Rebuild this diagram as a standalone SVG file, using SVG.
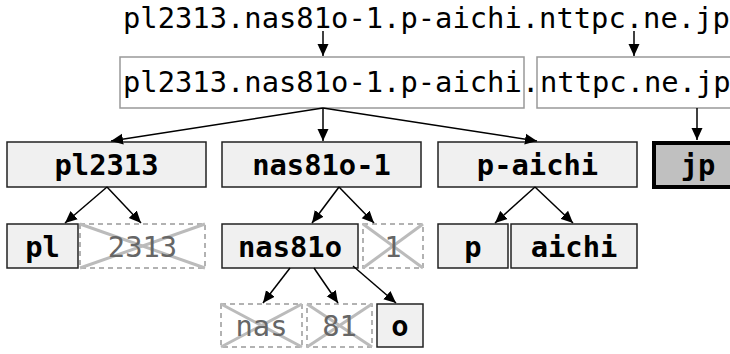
<svg xmlns="http://www.w3.org/2000/svg" width="730" height="354" viewBox="0 0 730 354">
<defs>
<marker id="arr" markerUnits="userSpaceOnUse" markerWidth="12" markerHeight="12" viewBox="0 0 12 12" refX="12" refY="6" orient="auto">
<path d="M0,0.5 L12,6 L0,11.5 z" fill="#000"/>
</marker>
<style>
.t{font-family:"DejaVu Sans Mono","Liberation Mono",monospace;font-size:28.8px;fill:#000}
.b{font-weight:bold;text-anchor:middle}
.g{fill:#666;text-anchor:middle}
.top{fill:#fff;stroke:#999;stroke-width:1.5}
.n{fill:#f0f0f0;stroke:#222;stroke-width:1.5}
.x{fill:none;stroke:#999;stroke-width:1.5;stroke-dasharray:5,4}
.xl{stroke:#bbb;stroke-width:3}
.c line{stroke:#000;stroke-width:1.5;marker-end:url(#arr)}
</style>
</defs>
<g id="source"><text class="t" x="123" y="28">pl2313.nas81o-1.p-aichi.nttpc.ne.jp</text></g>
<g id="host"><rect class="top" x="120" y="57" width="404" height="51"/><text class="t" x="123" y="92">pl2313.nas81o-1.p-aichi</text></g>
<g id="dot"><text class="t" x="522" y="92">.</text></g>
<g id="domain"><rect class="top" x="537" y="57" width="200" height="51"/><text class="t" x="540" y="92">nttpc.ne.jp</text></g>
<g id="n-pl2313"><rect class="n" x="7" y="142" width="199" height="45"/><text class="t b" x="106.5" y="175">pl2313</text></g>
<g id="n-nas81o-1"><rect class="n" x="222" y="142" width="199" height="45"/><text class="t b" x="321.5" y="175">nas81o-1</text></g>
<g id="n-p-aichi"><rect class="n" x="438" y="142" width="199" height="45"/><text class="t b" x="537.5" y="175">p-aichi</text></g>
<g id="n-jp"><rect x="654" y="143" width="90" height="44" fill="#c0c0c0" stroke="#000" stroke-width="4"/><text class="t b" x="698" y="175">jp</text></g>
<g id="n-pl"><rect class="n" x="7" y="224" width="71" height="44"/><text class="t b" x="42.5" y="256.5">pl</text></g>
<g id="n-2313"><rect class="x" x="80" y="224" width="125" height="44"/><line class="xl" x1="80" y1="224" x2="205" y2="268"/><line class="xl" x1="80" y1="268" x2="205" y2="224"/><text class="t g" x="142.5" y="256.5">2313</text></g>
<g id="n-nas81o"><rect class="n" x="222" y="224" width="136" height="44"/><text class="t b" x="290" y="256.5">nas81o</text></g>
<g id="n-1"><rect class="x" x="363" y="224" width="60" height="44"/><line class="xl" x1="363" y1="224" x2="423" y2="268"/><line class="xl" x1="363" y1="268" x2="423" y2="224"/><text class="t g" x="393" y="256.5">1</text></g>
<g id="n-p"><rect class="n" x="438" y="224" width="70" height="44"/><text class="t b" x="473" y="256.5">p</text></g>
<g id="n-aichi"><rect class="n" x="511" y="224" width="126" height="44"/><text class="t b" x="574" y="256.5">aichi</text></g>
<g id="n-nas"><rect class="x" x="221" y="304" width="81" height="43"/><line class="xl" x1="221" y1="304" x2="302" y2="347"/><line class="xl" x1="221" y1="347" x2="302" y2="304"/><text class="t g" x="261.5" y="336">nas</text></g>
<g id="n-81"><rect class="x" x="307" y="304" width="65" height="43"/><line class="xl" x1="307" y1="304" x2="372" y2="347"/><line class="xl" x1="307" y1="347" x2="372" y2="304"/><text class="t g" x="339.5" y="336">81</text></g>
<g id="n-o"><rect class="n" x="377" y="304" width="46" height="43"/><text class="t b" x="400" y="336">o</text></g>
<g class="c" id="connectors">
<line x1="323" y1="31" x2="323" y2="56"/>
<line x1="634" y1="31" x2="634" y2="56"/>
<line x1="323" y1="108" x2="111" y2="141"/>
<line x1="323" y1="108" x2="323" y2="141"/>
<line x1="323" y1="108" x2="537" y2="141"/>
<line x1="697" y1="108" x2="697" y2="140"/>
<line x1="107" y1="187" x2="65" y2="223"/>
<line x1="107" y1="187" x2="141" y2="223"/>
<line x1="339" y1="187" x2="312" y2="223"/>
<line x1="339" y1="187" x2="374" y2="223"/>
<line x1="535" y1="187" x2="495" y2="223"/>
<line x1="535" y1="187" x2="573" y2="223"/>
<line x1="290" y1="268" x2="263" y2="303"/>
<line x1="314" y1="268" x2="338" y2="303"/>
<line x1="353" y1="266" x2="396" y2="303"/>
</g>
</svg>
